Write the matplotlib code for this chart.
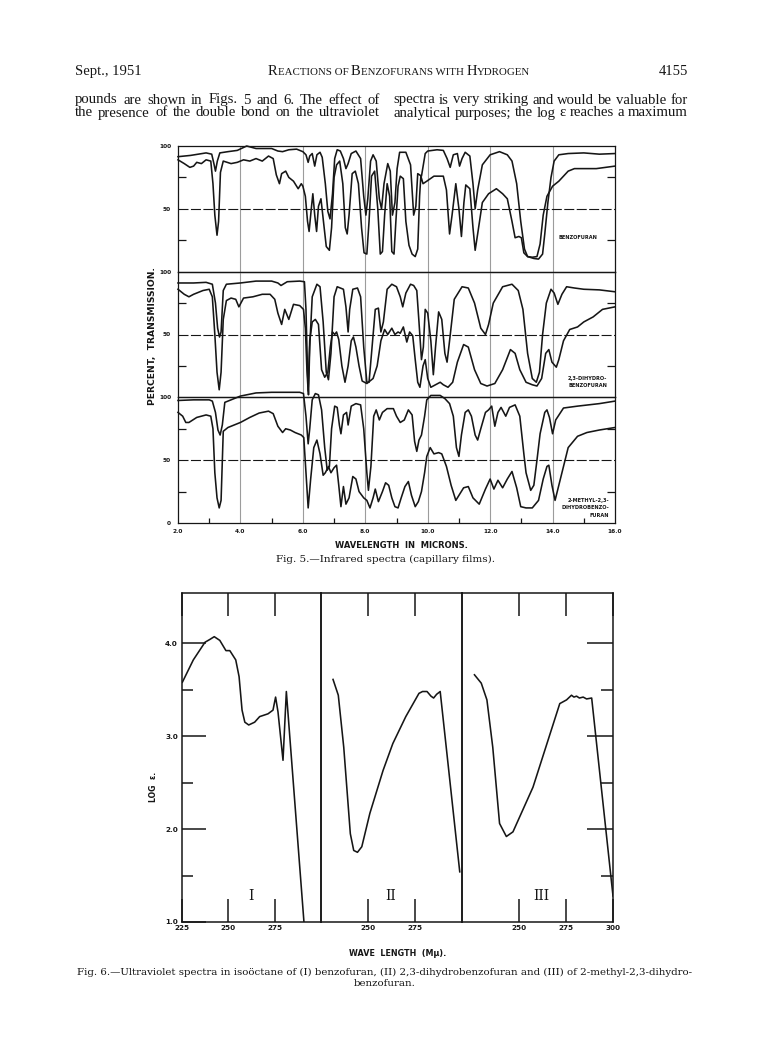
import matplotlib
matplotlib.use("Agg")
import matplotlib.pyplot as plt
from matplotlib.offsetbox import TextArea, HPacker, AnnotationBbox

# ---------------------------------------------------------------- page text
HEADER_LEFT = "Sept., 1951"
HEADER_TITLE = "Reactions of Benzofurans with Hydrogen"
HEADER_PAGE = "4155"
BODY_LEFT = ["pounds are shown in Figs. 5 and 6.  The effect of",
             "the presence of the double bond on the ultraviolet"]
BODY_RIGHT = ["spectra is very striking and would be valuable for",
              "analytical purposes; the log \u03b5 reaches a maximum"]

# ---------------------------------------------------------------- Fig. 5 (IR)
IR_XTICKS = [2, 4, 6, 8, 10, 12, 14, 16]
IR_XTICK_LABELS = ["2.0", "4.0", "6.0", "8.0", "10.0", "12.0", "14.0", "16.0"]
IR_XMINOR = [3, 5, 7, 9, 11, 13, 15]
IR_NAMES = ["BENZOFURAN", "2,3-DIHYDRO-\nBENZOFURAN",
            "2-METHYL-2,3-\nDIHYDROBENZO-\nFURAN"]
IR_XLABEL = "WAVELENGTH  IN  MICRONS."
IR_YLABEL = "PERCENT,  TRANSMISSION."
IR_CAPTION = "Fig. 5.\u2014Infrared spectra (capillary films)."

# benzofuran, thin and thick film (micron, % transmission)
BF_THIN = [(2.0, 91.5), (2.4, 92.5), (2.9, 94.5), (3.08, 93.5), (3.15, 86), (3.2, 80),
           (3.26, 88), (3.34, 94.5), (3.6, 95.5), (3.9, 96.5), (4.2, 100), (4.5, 98),
           (5.0, 98), (5.2, 96), (5.35, 95.5), (5.55, 97), (5.8, 97.5), (6.0, 95.5),
           (6.1, 93), (6.17, 87), (6.22, 92), (6.3, 94), (6.38, 84), (6.45, 93),
           (6.55, 95), (6.62, 91), (6.72, 70), (6.8, 48), (6.87, 42), (6.95, 62),
           (7.02, 90), (7.1, 97), (7.2, 96), (7.3, 90), (7.38, 82), (7.45, 86),
           (7.55, 94), (7.7, 96), (7.85, 90), (7.95, 60), (8.02, 45), (8.08, 58),
           (8.17, 88), (8.25, 93), (8.35, 88), (8.45, 58), (8.52, 50), (8.6, 70),
           (8.72, 86), (8.8, 80), (8.87, 45), (8.95, 55), (9.02, 82), (9.1, 95),
           (9.3, 95), (9.45, 85), (9.55, 45), (9.62, 52), (9.68, 78), (9.8, 76),
           (9.92, 94), (10.0, 96), (10.3, 97), (10.5, 96.5), (10.62, 90), (10.72, 83),
           (10.82, 93), (10.95, 94), (11.02, 84), (11.1, 90), (11.2, 95), (11.35, 92),
           (11.45, 70), (11.52, 50), (11.6, 65), (11.75, 85), (12.0, 93), (12.3, 95.5),
           (12.55, 93), (12.7, 88), (12.85, 70), (12.98, 40), (13.1, 18), (13.2, 12),
           (13.4, 10.5), (13.55, 10), (13.68, 14), (13.75, 30), (13.85, 55),
           (13.95, 75), (14.05, 88), (14.2, 93), (14.5, 94), (15.0, 94.5),
           (15.5, 93.5), (16.0, 94)]
BF_THICK = [(2.0, 89), (2.2, 86), (2.38, 83), (2.5, 84), (2.6, 87), (2.75, 86), (2.9, 89),
            (3.05, 88), (3.12, 70), (3.18, 45), (3.25, 29), (3.3, 40), (3.36, 79),
            (3.45, 88), (3.7, 86), (3.9, 87), (4.1, 89), (4.3, 88), (4.5, 90), (4.7, 88),
            (4.9, 92), (5.05, 90), (5.15, 77), (5.25, 70), (5.32, 78), (5.45, 80),
            (5.55, 75), (5.7, 72), (5.85, 66), (5.95, 70), (6.0, 68), (6.08, 60),
            (6.15, 40), (6.2, 32), (6.27, 50), (6.32, 62), (6.38, 45), (6.44, 32),
            (6.5, 52), (6.58, 58), (6.66, 40), (6.75, 20), (6.85, 17), (6.92, 35),
            (7.0, 75), (7.08, 85), (7.18, 88), (7.28, 70), (7.36, 35), (7.42, 30),
            (7.48, 45), (7.58, 78), (7.68, 80), (7.78, 70), (7.88, 35), (7.96, 15),
            (8.05, 14), (8.12, 40), (8.2, 76), (8.3, 80), (8.4, 50), (8.48, 14),
            (8.55, 16), (8.62, 45), (8.7, 70), (8.78, 60), (8.85, 16), (8.92, 14),
            (8.98, 40), (9.05, 68), (9.12, 76), (9.22, 74), (9.3, 40), (9.4, 21),
            (9.5, 14), (9.6, 12), (9.68, 18), (9.74, 60), (9.78, 76), (9.85, 70),
            (9.97, 72), (10.2, 76), (10.5, 76), (10.6, 65), (10.7, 30), (10.78, 45),
            (10.9, 70), (11.0, 50), (11.08, 28), (11.16, 55), (11.22, 69), (11.35, 66),
            (11.45, 35), (11.52, 17), (11.6, 30), (11.75, 55), (11.95, 62), (12.2, 66),
            (12.4, 62), (12.55, 58), (12.7, 40), (12.8, 27), (12.92, 28), (13.0, 27),
            (13.08, 15), (13.2, 12), (13.35, 11.5), (13.5, 12), (13.6, 22), (13.7, 45),
            (13.82, 60), (14.0, 68), (14.2, 72), (14.5, 80), (14.7, 82), (15.0, 82),
            (15.4, 82), (15.7, 83), (16.0, 84)]

# 2,3-dihydrobenzofuran, thin and thick film
DHB_THIN = [(2.0, 91), (2.5, 91), (2.9, 91.5), (3.1, 90), (3.2, 75), (3.27, 55),
            (3.33, 48), (3.38, 52), (3.45, 85), (3.55, 90), (4.0, 91), (4.5, 92.5),
            (5.0, 92.5), (5.2, 91), (5.3, 89), (5.5, 92), (5.9, 92.5), (6.05, 92),
            (6.1, 70), (6.15, 20), (6.18, 2), (6.22, 40), (6.3, 80), (6.45, 90),
            (6.55, 88), (6.65, 60), (6.75, 20), (6.82, 14), (6.9, 35), (7.0, 80),
            (7.1, 88), (7.2, 87), (7.3, 86), (7.38, 72), (7.45, 52), (7.5, 70),
            (7.6, 86), (7.75, 87), (7.85, 80), (7.95, 40), (8.05, 12), (8.12, 12),
            (8.2, 35), (8.32, 70), (8.42, 71), (8.5, 52), (8.58, 60), (8.7, 86),
            (8.85, 90), (9.0, 88), (9.12, 80), (9.2, 72), (9.3, 83), (9.45, 90),
            (9.55, 89), (9.65, 85), (9.72, 60), (9.8, 30), (9.86, 40), (9.92, 70),
            (10.0, 67), (10.1, 45), (10.18, 18), (10.25, 40), (10.35, 68), (10.45, 62),
            (10.55, 35), (10.62, 28), (10.7, 45), (10.85, 78), (11.1, 88), (11.3, 87),
            (11.5, 75), (11.7, 55), (11.85, 50), (11.95, 58), (12.1, 75), (12.4, 88),
            (12.7, 90), (12.9, 85), (13.05, 70), (13.2, 35), (13.35, 15), (13.48, 12),
            (13.58, 20), (13.68, 50), (13.8, 75), (13.95, 86), (14.05, 83),
            (14.17, 74), (14.3, 82), (14.45, 88), (14.7, 87), (15.0, 86),
            (15.5, 85.5), (16.0, 84)]
DHB_THICK = [(2.0, 86), (2.2, 82), (2.35, 80), (2.5, 82), (2.8, 85), (3.0, 86), (3.1, 80),
             (3.18, 50), (3.25, 20), (3.32, 6), (3.38, 20), (3.45, 62), (3.55, 77),
             (3.7, 79), (3.85, 78), (3.95, 72), (4.1, 79), (4.4, 80), (4.7, 82),
             (4.95, 82), (5.1, 78), (5.2, 67), (5.32, 58), (5.42, 70), (5.55, 62),
             (5.7, 74), (5.9, 73), (6.02, 70), (6.08, 55), (6.13, 22), (6.17, 5),
             (6.22, 45), (6.3, 60), (6.4, 62), (6.5, 58), (6.6, 22), (6.7, 16),
             (6.8, 20), (6.88, 40), (6.95, 52), (7.02, 50), (7.08, 52), (7.15, 46),
             (7.25, 25), (7.35, 12), (7.45, 25), (7.55, 45), (7.62, 48), (7.7, 40),
             (7.8, 25), (7.9, 13), (8.05, 11), (8.15, 13), (8.25, 15), (8.38, 25),
             (8.5, 45), (8.62, 54), (8.72, 50), (8.85, 55), (8.95, 50), (9.05, 52),
             (9.12, 51), (9.22, 56), (9.33, 44), (9.42, 52), (9.52, 49), (9.6, 30),
             (9.68, 12), (9.75, 8), (9.85, 25), (9.92, 30), (10.0, 15), (10.1, 8),
             (10.25, 10), (10.4, 12), (10.5, 10), (10.65, 8), (10.8, 12), (10.95, 28),
             (11.15, 42), (11.3, 40), (11.5, 22), (11.7, 11), (11.9, 9), (12.15, 11),
             (12.4, 22), (12.65, 38), (12.8, 35), (12.95, 22), (13.15, 12), (13.35, 10),
             (13.5, 9), (13.65, 15), (13.78, 35), (13.88, 38), (13.98, 28), (14.12, 24),
             (14.2, 30), (14.35, 45), (14.55, 54), (14.8, 56), (15.0, 60), (15.3, 64),
             (15.6, 70), (16.0, 72)]

# 2-methyl-2,3-dihydrobenzofuran, thin and thick film
MDHB_THIN = [(2.0, 97.5), (2.5, 98), (3.0, 98), (3.1, 97), (3.2, 88), (3.28, 74),
             (3.35, 70), (3.42, 78), (3.5, 96), (3.7, 98), (4.0, 101), (4.5, 103.5),
             (5.0, 104), (5.5, 104), (5.9, 104), (6.02, 103), (6.1, 85), (6.17, 63),
             (6.22, 75), (6.3, 98), (6.4, 103), (6.5, 102), (6.6, 90), (6.7, 60),
             (6.78, 42), (6.85, 45), (6.92, 75), (7.02, 93), (7.1, 92), (7.17, 78),
             (7.22, 71), (7.3, 86), (7.4, 88), (7.45, 78), (7.55, 93), (7.7, 95),
             (7.85, 94), (7.95, 75), (8.05, 40), (8.1, 26), (8.18, 45), (8.27, 85),
             (8.35, 90), (8.45, 82), (8.55, 88), (8.7, 91), (8.9, 91), (9.0, 85),
             (9.12, 80), (9.25, 82), (9.38, 90), (9.5, 86), (9.58, 65), (9.65, 57),
             (9.72, 66), (9.8, 70), (9.9, 85), (9.97, 98), (10.1, 101.5), (10.4, 101.5),
             (10.55, 99), (10.7, 95), (10.82, 85), (10.92, 60), (11.0, 53), (11.08, 70),
             (11.2, 88), (11.3, 90), (11.4, 85), (11.52, 70), (11.6, 66), (11.7, 75),
             (11.85, 88), (11.95, 90), (12.05, 93), (12.15, 77), (12.25, 88),
             (12.35, 92), (12.5, 85), (12.62, 92), (12.8, 94), (12.95, 85), (13.08, 55),
             (13.15, 40), (13.3, 26), (13.4, 30), (13.5, 50), (13.6, 71), (13.75, 88),
             (13.82, 90), (13.9, 84), (14.0, 71), (14.1, 82), (14.35, 91.5),
             (14.8, 93), (15.5, 95), (16.0, 97)]
MDHB_THICK = [(2.0, 88), (2.15, 85), (2.25, 80), (2.35, 80), (2.6, 84), (2.9, 86),
              (3.05, 85), (3.12, 75), (3.18, 40), (3.25, 20), (3.32, 12), (3.38, 18),
              (3.45, 73), (3.6, 76), (3.8, 78), (4.0, 80), (4.3, 84), (4.6, 87.5),
              (4.9, 89), (5.05, 87), (5.2, 77), (5.35, 72), (5.45, 75), (5.6, 74),
              (5.75, 72), (5.95, 70), (6.03, 68), (6.1, 40), (6.17, 12), (6.25, 35),
              (6.35, 60), (6.45, 66), (6.55, 55), (6.65, 38), (6.72, 40), (6.82, 45),
              (6.9, 40), (7.0, 44), (7.08, 46), (7.15, 30), (7.22, 13), (7.3, 29),
              (7.38, 15), (7.48, 20), (7.6, 37), (7.7, 35), (7.8, 25), (7.95, 20),
              (8.05, 18), (8.15, 12), (8.25, 20), (8.32, 27), (8.42, 17), (8.55, 25),
              (8.65, 32), (8.75, 30), (8.85, 20), (8.95, 13), (9.05, 12), (9.15, 20),
              (9.27, 29), (9.38, 33), (9.48, 22), (9.6, 13), (9.7, 17), (9.8, 25),
              (9.9, 40), (9.97, 53), (10.08, 60), (10.2, 55), (10.35, 56), (10.45, 55),
              (10.6, 45), (10.75, 30), (10.9, 18), (11.0, 22), (11.15, 28), (11.3, 29),
              (11.45, 20), (11.65, 15), (11.85, 27), (12.0, 35), (12.12, 27),
              (12.25, 34), (12.4, 28), (12.55, 35), (12.7, 41), (12.85, 28),
              (12.98, 13), (13.15, 12), (13.35, 12), (13.55, 18), (13.7, 35),
              (13.82, 45), (13.88, 46), (13.98, 30), (14.08, 18), (14.2, 30),
              (14.35, 45), (14.5, 60), (14.8, 69), (15.1, 72), (15.5, 74), (16.0, 76)]

# ---------------------------------------------------------------- Fig. 6 (UV)
UV_XLABEL = "WAVE  LENGTH  (M\u03bc)."
UV_YLABEL = "LOG  \u03b5."
UV_NUMERALS = ["I", "II", "III"]
UV_XLIMS = [(225, 300), (225, 300), (220, 300)]
UV_XTICK_LABELS = [["225", "250", "275"], ["250", "275"], ["250", "275", "300"]]
UV_XTICKS = [[225, 250, 275], [250, 275], [250, 275, 300]]
UV_YTICKS = [1.0, 2.0, 3.0, 4.0]
UV_YTICK_LABELS = ["1.0", "2.0", "3.0", "4.0"]
UV_CAPTION = ["Fig. 6.\u2014Ultraviolet spectra in iso\u00f6ctane of (I) benzofuran, "
              "(II) 2,3-dihydrobenzofuran and (III) of 2-methyl-2,3-dihydro-",
              "benzofuran."]

UV_I_X = [225.2, 231.1, 237.4, 240.0, 242.4, 245.4, 248.7, 250.8, 254.0, 255.8, 257.4,
          258.9, 261.0, 264.2, 266.9, 271.4, 274.1, 275.5, 276.8, 279.5, 281.3, 290.8]
UV_I_Y = [3.58, 3.82, 4.01, 4.04, 4.07, 4.03, 3.92, 3.92, 3.82, 3.64, 3.28,
          3.15, 3.12, 3.15, 3.21, 3.24, 3.28, 3.42, 3.26, 2.74, 3.48, 1.0]
UV_II_X = [231.4, 234.2, 237.1, 240.6, 242.4, 244.4, 246.7, 251.0, 258.0, 263.2, 270.1,
           277.1, 279.0, 281.4, 283.5, 284.9, 286.5, 288.4, 298.8]
UV_II_Y = [3.61, 3.44, 2.88, 1.95, 1.77, 1.75, 1.81, 2.17, 2.63, 2.92, 3.21,
           3.46, 3.48, 3.48, 3.43, 3.41, 3.45, 3.48, 1.54]
UV_III_X = [226.6, 230.2, 233.2, 236.3, 239.9, 243.5, 247.0, 257.6, 271.8, 275.4, 278.0,
            279.3, 280.7, 282.2, 284.2, 286.0, 288.7, 300.0]
UV_III_Y = [3.66, 3.57, 3.39, 2.88, 2.06, 1.92, 1.97, 2.45, 3.35, 3.39, 3.44,
            3.42, 3.43, 3.41, 3.42, 3.40, 3.41, 1.28]

# ---------------------------------------------------------------- drawing
W, H = 764, 1056
SERIF = ["DejaVu Serif"]
TEXT_SERIF = ["Liberation Serif", "DejaVu Serif"]
LETTER = ["DejaVu Sans"]
INK = "#161616"

fig = plt.figure(figsize=(W / 100, H / 100), dpi=100)
fig.patch.set_facecolor("white")
renderer = fig.canvas.get_renderer()


def fx(px):
    return px / W


def fy(py):
    return 1 - py / H


def justified_line(line, x0, x1, y, **kw):
    """Set one line of body text flush with both column edges."""
    words = line.split()
    texts = [fig.text(0, fy(y), w, ha="left", va="center", **kw) for w in words]
    widths = [t.get_window_extent(renderer).width for t in texts]
    gap = ((x1 - x0) - sum(widths)) / max(len(words) - 1, 1)
    x = x0
    for t, w in zip(texts, widths):
        t.set_x(fx(x))
        x += w + gap


# running head set in small capitals
def small_caps(text, big, small):
    runs, cur, cur_big = [], "", None
    for ch in text:
        is_big = ch.isupper()
        if cur_big is None or is_big == cur_big:
            cur += ch
        else:
            runs.append((cur, cur_big))
            cur = ch
        cur_big = is_big
    runs.append((cur, cur_big))
    boxes = [TextArea(s.upper(), textprops=dict(family=TEXT_SERIF,
                                                size=big if b else small, color=INK))
             for s, b in runs]
    return HPacker(children=boxes, align="baseline", pad=0, sep=0)


fig.text(fx(75), fy(72), HEADER_LEFT, family=TEXT_SERIF, size=10.5, color=INK,
         ha="left", va="center")
fig.text(fx(688), fy(72), HEADER_PAGE, family=TEXT_SERIF, size=10.5, color=INK,
         ha="right", va="center")
fig.add_artist(AnnotationBbox(small_caps(HEADER_TITLE, 10.5, 7.8),
                              (fx(399), fy(72)), xycoords="figure fraction",
                              frameon=False, box_alignment=(0.5, 0.5)))
body_font = dict(family=TEXT_SERIF, size=10.6, color=INK)
for i, line in enumerate(BODY_LEFT):
    justified_line(line, 75, 380, 100 + 13 * i, **body_font)
for i, line in enumerate(BODY_RIGHT):
    justified_line(line, 393, 688, 100 + 13 * i, **body_font)

# ---- Fig. 5: three stacked infrared panels
ir_left, ir_right, ir_top, ir_bot = 178, 615, 146, 523
ph = (ir_bot - ir_top) / 3
ir_series = [(BF_THIN, BF_THICK), (DHB_THIN, DHB_THICK), (MDHB_THIN, MDHB_THICK)]
tick_font = dict(family=LETTER, size=4.2, weight="bold", color=INK)

for i, (thin, thick) in enumerate(ir_series):
    top = ir_top + i * ph
    ax = fig.add_axes([fx(ir_left), fy(top + ph), (ir_right - ir_left) / W, ph / H])
    ax.set_xlim(2, 16)
    ax.set_ylim(0, 100)
    ax.set_facecolor("none")
    for s in ax.spines.values():
        s.set_linewidth(0.9)
        s.set_color(INK)
    for x in IR_XTICKS[1:-1]:
        ax.axvline(x, color="#9c9c9c", lw=0.8, zorder=1)
    ax.axhline(50, color=INK, lw=0.8, dashes=(9, 2.2), zorder=1)
    for series in (thin, thick):
        xs = [p[0] for p in series]
        ys = [p[1] for p in series]
        ax.plot(xs, ys, color=INK, lw=1.15, clip_on=False, zorder=3,
                solid_joinstyle="round")
    yt = [50, 100] if i < 2 else [0, 50, 100]
    ax.set_yticks(yt)
    ax.set_yticklabels([str(v) for v in yt], **tick_font)
    ax.set_yticks([25, 75], minor=True)
    ax.tick_params(axis="y", which="major", length=0, pad=5)
    ax.tick_params(axis="y", which="minor", direction="in", length=5.5, width=0.9,
                   left=True, right=True, color=INK)
    ax.set_xticks(IR_XTICKS)
    if i == 2:
        ax.set_xticklabels(IR_XTICK_LABELS, **tick_font)
        ax.set_xticks(IR_XMINOR, minor=True)
        ax.tick_params(axis="x", which="major", length=0, pad=4)
        ax.tick_params(axis="x", which="minor", direction="in", length=3.5,
                       width=0.9, color=INK)
    else:
        ax.set_xticklabels([])
        ax.tick_params(axis="x", which="both", length=0)
    name_font = dict(family=LETTER, size=3.6, weight="bold", color=INK,
                     ha="right", va="center", linespacing=1.6)
    if i == 0:
        ax.text(15.42, 27, IR_NAMES[0], **name_font)
    elif i == 1:
        ax.text(15.75, 12, IR_NAMES[1], **name_font)
    else:
        ax.text(15.8, 12, IR_NAMES[2], **name_font)

fig.text(fx(152), fy(336), IR_YLABEL, family=LETTER, size=6.6, weight="bold",
         color=INK, rotation=90, ha="center", va="center")
fig.text(fx(401), fy(545), IR_XLABEL, family=LETTER, size=6.0, weight="bold",
         color=INK, ha="center", va="center")
fig.text(fx(385), fy(559), IR_CAPTION, family=SERIF, size=7.5, color=INK,
         ha="center", va="center")

# ---- Fig. 6: three side-by-side ultraviolet panels
uv_edges = [182, 321, 462, 613]
uv_top, uv_bot = 593, 922
uv_series = [(UV_I_X, UV_I_Y), (UV_II_X, UV_II_Y), (UV_III_X, UV_III_Y)]
uv_font = dict(family=LETTER, size=5.2, weight="bold", color=INK)

for i, (xs, ys) in enumerate(uv_series):
    l, r = uv_edges[i], uv_edges[i + 1]
    ax = fig.add_axes([fx(l), fy(uv_bot), (r - l) / W, (uv_bot - uv_top) / H])
    ax.set_facecolor("none")
    ax.set_xlim(*UV_XLIMS[i])
    ax.set_ylim(1.0, 4.54)
    for s in ax.spines.values():
        s.set_linewidth(1.1)
        s.set_color(INK)
    ax.plot(xs, ys, color=INK, lw=1.15, clip_on=True, zorder=3,
            solid_joinstyle="round")
    ax.set_xticks(UV_XTICKS[i])
    ax.set_xticklabels(UV_XTICK_LABELS[i], **uv_font)
    ax.tick_params(axis="x", which="major", direction="in", length=16.5, width=1.1,
                   top=True, bottom=True, color=INK, pad=2)
    if i == 0:
        ax.set_yticks(UV_YTICKS)
        ax.set_yticklabels(UV_YTICK_LABELS, **uv_font)
        ax.set_yticks([1.5, 2.5, 3.5], minor=True)
        ax.tick_params(axis="y", which="major", direction="in", length=17, width=1.1,
                       left=True, right=False, color=INK, pad=3)
        ax.tick_params(axis="y", which="minor", direction="in", length=8, width=1.1,
                       left=True, right=False, color=INK)
    elif i == 2:
        ax.set_yticks(UV_YTICKS[1:])
        ax.set_yticklabels([])
        ax.set_yticks([1.5, 2.5, 3.5], minor=True)
        ax.tick_params(axis="y", which="major", direction="in", length=19, width=1.1,
                       left=False, right=True, color=INK)
        ax.tick_params(axis="y", which="minor", direction="in", length=8.6, width=1.1,
                       left=False, right=True, color=INK)
    else:
        ax.set_yticks([])
    ax.text(262, 1.28, UV_NUMERALS[i], family=SERIF, size=10, color=INK,
            ha="center", va="center")

fig.text(fx(153), fy(787), UV_YLABEL, family=LETTER, size=5.6, weight="bold",
         color=INK, rotation=90, ha="center", va="center")
fig.text(fx(398), fy(953), UV_XLABEL, family=LETTER, size=5.8, weight="bold",
         color=INK, ha="center", va="center")
fig.text(fx(385), fy(972), UV_CAPTION[0], family=SERIF, size=7.4, color=INK,
         ha="center", va="center")
fig.text(fx(385), fy(984), UV_CAPTION[1], family=SERIF, size=7.4, color=INK,
         ha="center", va="center")

fig.savefig("out.png", dpi=100, facecolor="white")
